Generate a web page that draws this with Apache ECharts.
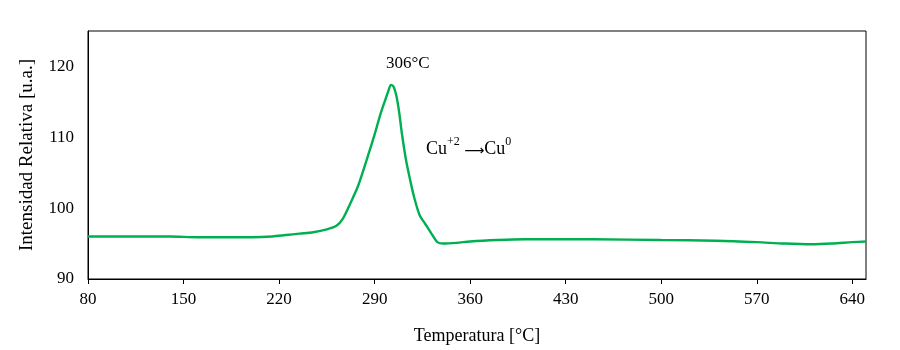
<!DOCTYPE html>
<html>
<head>
<meta charset="utf-8">
<script src="https://cdn.jsdelivr.net/npm/echarts@6/dist/echarts.min.js"></script>
<style>
html,body{margin:0;padding:0;background:#fff;}
#main{width:900px;height:350px;}
</style>
</head>
<body>
<div id="main"></div>
<script>
// temperatura [°C] y intensidad relativa [u.a.]
var temps = [80,100,120,140,160,180,200,215,225,235,245,255,262,267,272,278,284,290,294,298,300,302,304,306,308,310,313,316,319,323,327,330,333,336,340,350,360,380,400,450,500,540,570,590,610,625,640,650];
var intens = [96.0,96.0,96.0,96.0,95.9,95.9,95.9,96.0,96.2,96.4,96.6,97.0,97.5,98.6,100.6,103.2,106.7,110.4,113.1,115.4,116.5,117.4,117.1,115.8,113.5,110.5,106.8,104.0,101.5,99.0,97.8,96.9,96.0,95.2,95.0,95.1,95.3,95.5,95.6,95.6,95.5,95.4,95.2,95.0,94.9,95.0,95.2,95.3];
var xTicks = [80,150,220,290,360,430,500,570,640];

var serie = temps.map(function(t,i){ return [t, intens[i]]; });
var fuente = 'Liberation Serif';

var myChart = echarts.init(document.getElementById('main'));
var option = {
    animation: false,
    backgroundColor: '#fff',
    grid: {
        left: 88, right: 34, top: 31, bottom: 71,
        show: true, borderColor: '#000', borderWidth: 1
    },
    xAxis: {
        type: 'value',
        min: 80, max: 650, interval: 70,
        name: 'Temperatura [°C]',
        nameLocation: 'middle',
        nameGap: 48,
        nameTextStyle: { fontFamily: fuente, fontSize: 18, color: '#000' },
        axisLine: { lineStyle: { color: '#000', width: 1 } },
        axisTick: { show: true, length: 5, lineStyle: { color: '#000' },
            customValues: xTicks },
        axisLabel: { fontFamily: fuente, fontSize: 17, color: '#000', margin: 12,
            customValues: xTicks },
        splitLine: { show: false }
    },
    yAxis: {
        type: 'value',
        min: 90, max: 125, interval: 10,
        name: 'Intensidad Relativa [u.a.]',
        nameLocation: 'middle',
        nameGap: 51,
        nameTextStyle: { fontFamily: fuente, fontSize: 19, color: '#000' },
        axisLine: { show: true, lineStyle: { color: '#000', width: 1 } },
        axisTick: { show: false },
        axisLabel: { fontFamily: fuente, fontSize: 17, color: '#000', margin: 14,
            formatter: function(v){ return v > 120 ? '' : v; } },
        splitLine: { show: false }
    },
    series: [{
        type: 'line',
        data: serie,
        smooth: 0.3,
        showSymbol: false,
        lineStyle: { color: '#00b050', width: 2.4 }
    }],
    graphic: [
        { type: 'text', left: 386, top: 55,
          style: { text: '306°C', font: '17px "Liberation Serif"', fill: '#000' } },
        { type: 'text', left: 426, top: 136,
          style: {
              text: '{n|Cu}{s|+2}{n| }{a|⟶}{n|Cu}{s|0}',
              rich: {
                  n: { fontFamily: fuente, fontSize: 18, fill: '#000', verticalAlign: 'bottom', lineHeight: 22 },
                  a: { fontFamily: 'DejaVu Sans', fontSize: 14, fill: '#000', verticalAlign: 'bottom', lineHeight: 20 },
                  s: { fontFamily: fuente, fontSize: 12, fill: '#000', verticalAlign: 'top', lineHeight: 22, padding: [0,0,9,0] }
              }
          } }
    ]
};
myChart.setOption(option);
</script>
</body>
</html>
